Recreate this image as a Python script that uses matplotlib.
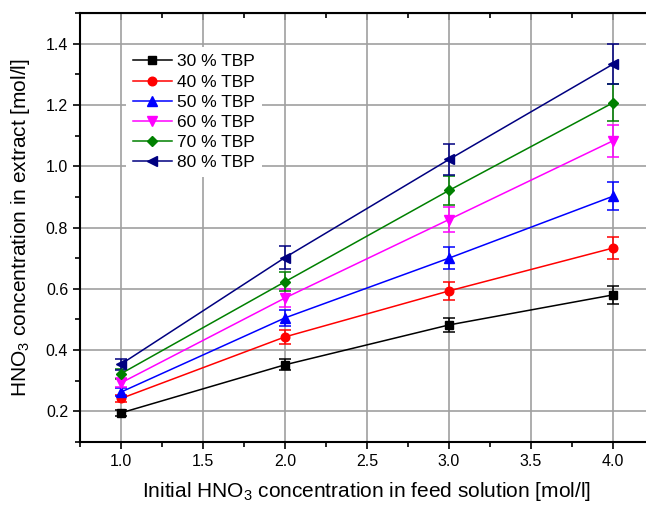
import matplotlib.pyplot as plt
from matplotlib.ticker import MultipleLocator

plt.rcParams['font.family'] = ['Liberation Sans', 'DejaVu Sans']
plt.rcParams['mathtext.fontset'] = 'custom'
plt.rcParams['mathtext.rm'] = 'Liberation Sans'
plt.rcParams['mathtext.it'] = 'Liberation Sans'

# feed concentration [mol/l]
feed = [1.0, 2.0, 3.0, 4.0]

tbp_30 = [0.195, 0.352, 0.482, 0.580]
tbp_40 = [0.242, 0.443, 0.593, 0.733]
tbp_50 = [0.263, 0.505, 0.700, 0.902]
tbp_60 = [0.293, 0.570, 0.826, 1.083]
tbp_70 = [0.323, 0.623, 0.921, 1.207]
tbp_80 = [0.354, 0.702, 1.022, 1.333]

err_30 = [0.010, 0.018, 0.024, 0.029]
err_40 = [0.012, 0.022, 0.030, 0.037]
err_50 = [0.013, 0.025, 0.035, 0.045]
err_60 = [0.015, 0.029, 0.041, 0.053]
err_70 = [0.016, 0.031, 0.046, 0.060]
err_80 = [0.018, 0.036, 0.051, 0.065]

labels = ['30 % TBP', '40 % TBP', '50 % TBP', '60 % TBP', '70 % TBP', '80 % TBP']

series = [tbp_30, tbp_40, tbp_50, tbp_60, tbp_70, tbp_80]
errors = [err_30, err_40, err_50, err_60, err_70, err_80]
colors = ['black', 'red', 'blue', 'magenta', '#008000', '#000080']
markers = ['s', 'o', '^', 'v', 'D', '<']
sizes = [5.5, 6.2, 6.8, 6.8, 5.2, 6.8]

fig = plt.figure(figsize=(6.46, 5.05), dpi=100)
ax = fig.add_axes([80 / 646, 1 - 442 / 505, (654 - 80) / 646, (442 - 13) / 505])

handles = []
for y, e, c, m, s, lab in zip(series, errors, colors, markers, sizes, labels):
    cont = ax.errorbar(feed, y, yerr=e, color=c, marker=m, markersize=s, lw=1.1,
                       elinewidth=1.1, capsize=4, capthick=1.1, label=lab, zorder=3)
    handles.append(cont[0])

ax.set_xlim(0.75, 4.25)
ax.set_ylim(0.1, 1.5)
ax.xaxis.set_major_locator(MultipleLocator(0.5))
ax.xaxis.set_minor_locator(MultipleLocator(0.25))
ax.yaxis.set_major_locator(MultipleLocator(0.2))
ax.yaxis.set_minor_locator(MultipleLocator(0.1))
ax.xaxis.set_major_formatter(lambda v, p: f"{v:.1f}")
ax.yaxis.set_major_formatter(lambda v, p: f"{v:.1f}")

ax.grid(True, which='major', color='#a0a0a0', lw=1.2, zorder=0)
ax.set_axisbelow(True)

ax.tick_params(which='both', direction='out', labelsize=11.5, width=1.2)
ax.tick_params(which='major', length=5)
ax.tick_params(which='minor', length=3.5)
for sp in ax.spines.values():
    sp.set_linewidth(1.5)

# top ticks point inward
ax2 = ax.secondary_xaxis('top')
ax2.xaxis.set_major_locator(MultipleLocator(0.5))
ax2.xaxis.set_minor_locator(MultipleLocator(0.25))
ax2.tick_params(which='both', direction='in', labeltop=False, width=1.2)
ax2.tick_params(which='major', length=5)
ax2.tick_params(which='minor', length=3.5)

ax.set_xlabel('Initial HNO$_3$ concentration in feed solution [mol/l]', fontsize=15, labelpad=8)
ax.set_ylabel('HNO$_3$ concentration in extract [mol/l]', fontsize=15, labelpad=10)

leg = ax.legend(handles, labels, loc='upper left', bbox_to_anchor=(0.08, 0.92),
                frameon=True, fontsize=12.5, handlelength=2.25, handletextpad=0.3,
                labelspacing=0.29, borderpad=0.4, borderaxespad=0)
leg.get_frame().set_edgecolor('none')
leg.get_frame().set_alpha(1)

plt.savefig('out.png', dpi=100)
